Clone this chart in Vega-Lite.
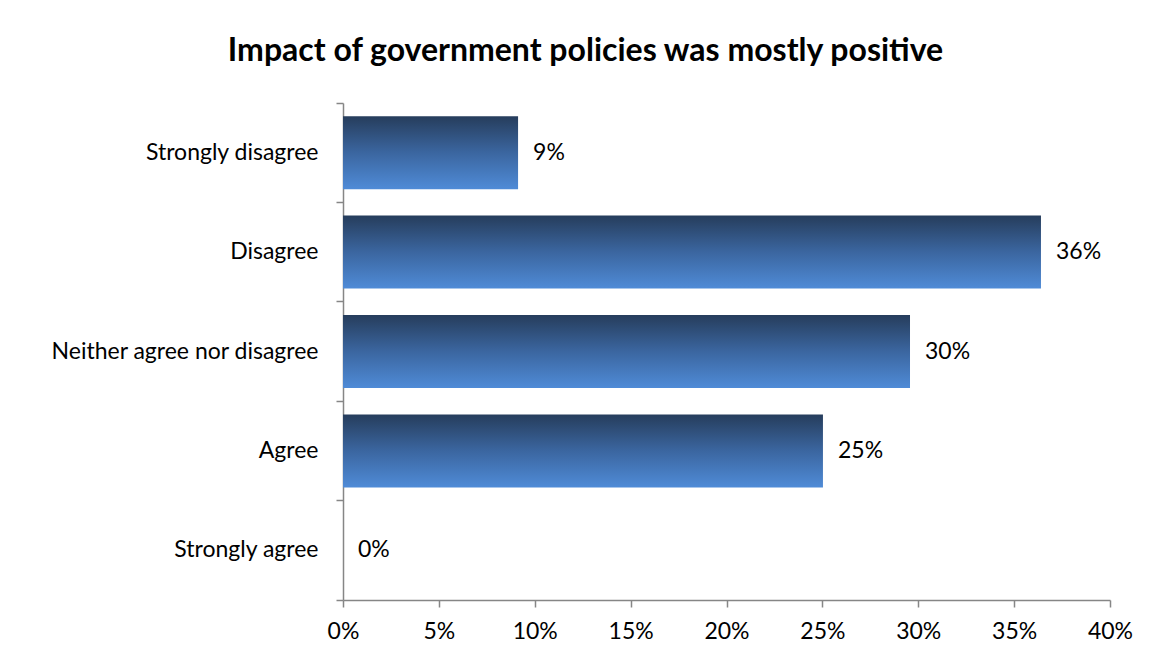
{
  "$schema": "https://vega.github.io/schema/vega-lite/v6.json",
  "width": 767,
  "height": 497,
  "autosize": {"type": "none"},
  "padding": {"left": 343, "top": 103, "right": 44, "bottom": 61},
  "background": "white",
  "title": {
    "text": "Impact of government policies was mostly positive",
    "font": "Lato",
    "fontSize": 32,
    "fontWeight": "bold",
    "color": "black",
    "anchor": "middle",
    "dx": -141,
    "offset": 24
  },
  "data": {
    "values": [
      {"response": "Strongly disagree", "share": 0.0913, "label": "9%"},
      {"response": "Disagree", "share": 0.364, "label": "36%"},
      {"response": "Neither agree nor disagree", "share": 0.2957, "label": "30%"},
      {"response": "Agree", "share": 0.2503, "label": "25%"},
      {"response": "Strongly agree", "share": 0, "label": "0%"}
    ]
  },
  "encoding": {
    "y": {
      "field": "response",
      "type": "nominal",
      "sort": null,
      "scale": {"paddingInner": 0, "paddingOuter": 0},
      "axis": {
        "title": null,
        "bandPosition": 1,
        "tickExtra": true,
        "domainColor": "#868686",
        "domainWidth": 1.5,
        "tickColor": "#868686",
        "tickWidth": 1.5,
        "tickSize": 7,
        "labelPadding": 18,
        "labelLimit": 0,
        "labelFont": "Lato",
        "labelFontSize": 23,
        "labelColor": "black"
      }
    },
    "x": {
      "field": "share",
      "type": "quantitative",
      "scale": {"domain": [0, 0.4], "nice": false},
      "axis": {
        "title": null,
        "format": ".0%",
        "values": [0, 0.05, 0.1, 0.15, 0.2, 0.25, 0.3, 0.35, 0.4],
        "grid": false,
        "domainColor": "#868686",
        "domainWidth": 1.5,
        "tickColor": "#868686",
        "tickWidth": 1.5,
        "tickSize": 7,
        "labelPadding": 13,
        "labelFont": "Lato",
        "labelFontSize": 23,
        "labelColor": "black",
        "labelFlush": false
      }
    }
  },
  "layer": [
    {
      "mark": {
        "type": "bar",
        "height": {"band": 0.734},
        "color": {
          "gradient": "linear",
          "x1": 0, "y1": 0, "x2": 0, "y2": 1,
          "stops": [
            {"offset": 0, "color": "#263d5c"},
            {"offset": 0.5, "color": "#3b66a0"},
            {"offset": 1, "color": "#4f8bd7"}
          ]
        }
      }
    },
    {
      "mark": {
        "type": "text",
        "align": "left",
        "baseline": "middle",
        "dx": 15,
        "font": "Lato",
        "fontSize": 23,
        "color": "black"
      },
      "encoding": {"text": {"field": "label"}}
    }
  ],
  "config": {"view": {"stroke": null}}
}
